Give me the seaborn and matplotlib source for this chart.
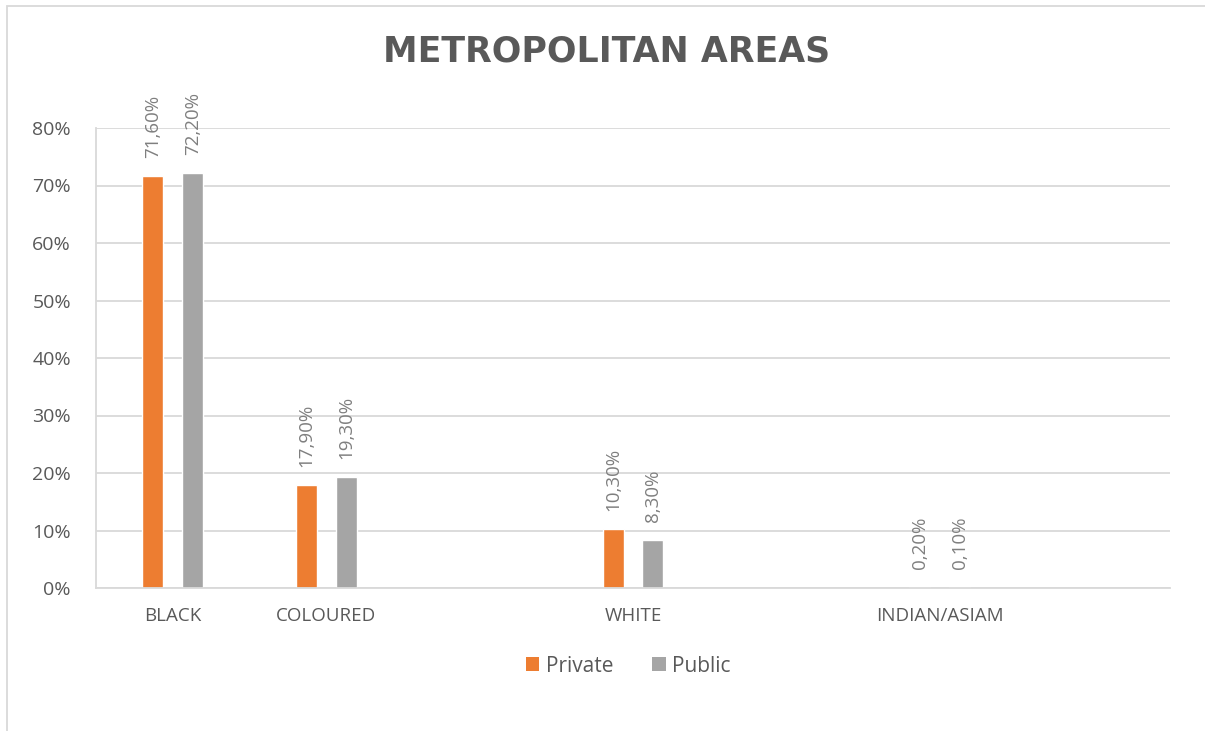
import pandas as pd
import matplotlib
matplotlib.use("Agg")
import matplotlib.pyplot as plt
import seaborn as sns
from matplotlib.patches import Patch, Rectangle

# data (blank slots keep the uneven spacing of the original chart)
groups = ["BLACK", "COLOURED", "WHITE", "INDIAN/ASIAM"]
order = ["BLACK", "COLOURED", "_gap1", "WHITE", "_gap2", "INDIAN/ASIAM", "_gap3"]
private = [71.6, 17.9, 10.3, 0.2]
public = [72.2, 19.3, 8.3, 0.1]
sectors = ["Private", "Public"]
colors = ["#ED7D31", "#A5A5A5"]

df = pd.DataFrame({"group": groups * 2,
                   "value": private + public,
                   "sector": ["Private"] * 4 + ["Public"] * 4})

sns.set_style("white")
plt.rcParams["font.family"] = ["Open Sans", "DejaVu Sans"]
txt = "#595959"

fig = plt.figure(figsize=(12.05, 7.31), dpi=100)
ax = fig.add_axes([96 / 1205, 1 - 588 / 731, (1170 - 96) / 1205, (588 - 128) / 731])

sns.barplot(data=df, x="group", y="value", hue="sector", order=order,
            hue_order=sectors, palette=colors, width=0.52, gap=0.475,
            legend=False, ax=ax, saturation=1)

ax.set_ylim(0, 80)
ax.set_xlim(-0.5, len(order) - 0.5)
ax.set_yticks(range(0, 81, 10))
ax.set_yticklabels([f"{v}%" for v in range(0, 81, 10)], fontsize=14, color=txt)
ax.set_xticks(range(len(order)))
ax.set_xticklabels(["" if o.startswith("_") else o for o in order],
                   fontsize=13.5, color=txt)
ax.tick_params(axis="x", length=0, pad=13.5)
ax.tick_params(axis="y", length=6, width=1.2, color="#D9D9D9", pad=12)
ax.set_xlabel("")
ax.set_ylabel("")
ax.grid(axis="y", color="#D9D9D9", lw=1.3)
ax.set_axisbelow(True)
for s in ["top", "right"]:
    ax.spines[s].set_visible(False)
for s in ["left", "bottom"]:
    ax.spines[s].set_color("#D9D9D9")
    ax.spines[s].set_linewidth(1.3)

for cont in ax.containers:
    labels = [f"{b.get_height():.2f}%".replace(".", ",") for b in cont]
    ax.bar_label(cont, labels=labels, rotation=90, padding=13,
                 fontsize=13.5, color="#7F7F7F")

fig.suptitle("METROPOLITAN AREAS", x=607 / 1205, y=1 - 52 / 731, va="center",
             fontsize=25, fontweight="bold", color=txt, family="DejaVu Sans")

handles = [Patch(facecolor=c, edgecolor="none") for c in colors]
fig.legend(handles, sectors, loc="center", bbox_to_anchor=(628 / 1205, 1 - 666 / 731),
           ncol=2, frameon=False, fontsize=15, labelcolor=txt,
           handlelength=0.67, handleheight=0.67, handletextpad=0.3, columnspacing=1.85)

fig.patches.append(Rectangle((7 / 1205, -0.01), 1.1, 1 - 6 / 731 + 0.01,
                             transform=fig.transFigure, fill=False,
                             edgecolor="#D9D9D9", lw=1.3))

fig.savefig("out.png", dpi=100, facecolor="white")
